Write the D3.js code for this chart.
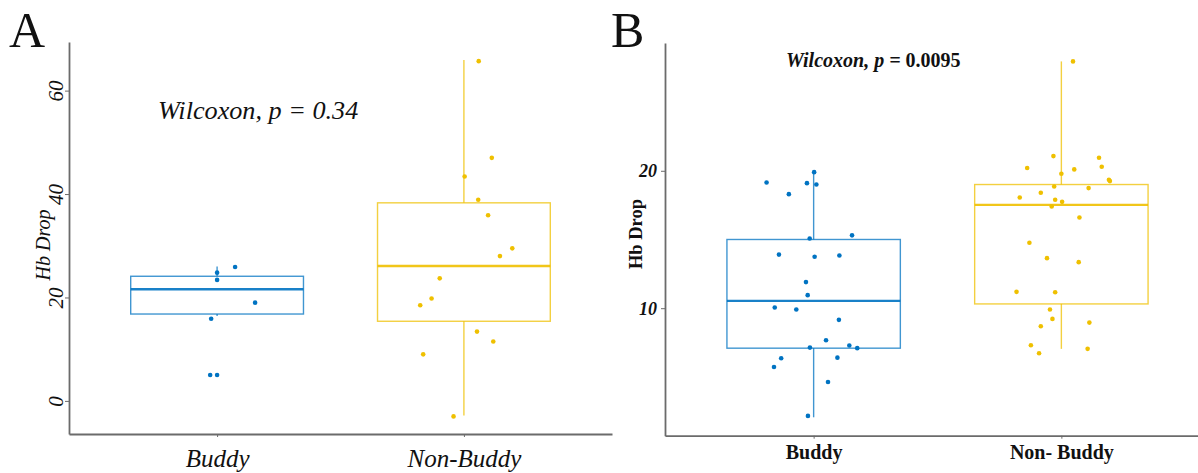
<!DOCTYPE html>
<html>
<head>
<meta charset="utf-8">
<script src="https://cdn.jsdelivr.net/npm/d3@7"></script>
<style>
  html, body { margin: 0; padding: 0; background: #fff; }
  svg { display: block; }
</style>
</head>
<body>
<svg id="chart" width="1198" height="473"></svg>
<script>
// ---------------- DATA ----------------
const categories = ["Buddy", "Non-Buddy"];
const categoryLabelsA = ["Buddy", "Non-Buddy"];
const categoryLabelsB = ["Buddy", "Non- Buddy"];
const colors = ["#0073C2", "#EFC000"];

// Panel A
const ticksA = [0, 20, 40, 60];
const buddyA = [24.8, 23.4, 25.9, 19.0, 15.9, 5.0, 5.0];
const buddyAJitter = [0, 0, 0.073, 0.154, -0.024, -0.028, 0];
const nonBuddyA = [65.7, 47.0, 43.4, 38.9, 35.9, 29.5, 28.0, 23.7, 19.8, 18.5, 13.4, 11.5, 9.0, -3.0];
const nonBuddyAJitter = [0.060, 0.113, 0.003, 0.058, 0.098, 0.196, 0.146, -0.098, -0.131, -0.177, 0.053, 0.119, -0.165, -0.042];
// box stats [Buddy, Non-Buddy]
const lowA = [16.4, -2.8];
const q1A = [16.8, 15.4];
const medA = [21.6, 26.1];
const q3A = [24.1, 38.3];
const highA = [26.0, 65.9];
const pLabelA = "Wilcoxon, p = 0.34";

// Panel B
const ticksB = [10, 20];
const buddyB = [19.15, 18.3, 19.1, 19.0, 19.9, 15.3, 15.07, 13.9, 13.74, 13.83, 11.9, 10.95, 10.05, 9.9, 9.15, 7.67, 7.13, 7.28, 7.09, 6.36, 5.72, 6.4, 4.63, 2.16];
const buddyBJitter = [-0.19, -0.10, -0.027, 0.011, 0.002, 0.155, -0.016, -0.14, 0.004, 0.104, -0.031, -0.024, -0.157, -0.07, 0.102, 0.05, -0.015, 0.144, 0.176, -0.131, -0.16, 0.096, 0.058, -0.023];
const nonBuddyB = [27.96, 21.07, 20.95, 20.2, 20.1, 20.29, 19.78, 19.34, 19.25, 18.86, 18.74, 18.06, 18.4, 17.89, 17.74, 17.4, 16.6, 14.76, 13.64, 13.35, 11.19, 11.16, 9.9, 9.22, 8.69, 8.95, 7.3, 6.72, 7.04];
const nonBuddyBJitter = [0.047, -0.032, 0.152, -0.138, 0.052, 0.163, 0, 0.192, 0.196, -0.029, 0.11, -0.168, -0.083, -0.025, 0.003, -0.039, 0.073, -0.129, -0.058, 0.07, -0.181, -0.025, -0.046, -0.036, -0.083, 0.113, -0.123, -0.09, 0.106];
const lowB = [2.06, 7.04];
const q1B = [7.09, 10.31];
const medB = [10.53, 17.52];
const q3B = [15.0, 19.0];
const highB = [20.0, 27.96];
const pLabelB1 = "Wilcoxon, p =";
const pLabelB2 = " 0.0095";

// ---------------- DRAWING ----------------
const svg = d3.select("#chart");
const SERIF = "'Liberation Serif', 'Times New Roman', serif";
const AXIS_COL = "#6b6b6b";

function drawPanel(cfg) {
  const g = svg.append("g");
  const x = d3.scalePoint().domain(categories).range(cfg.xRange).padding(0.6);
  const y = d3.scaleLinear().domain(cfg.yDomain).range(cfg.yRange);
  const step = x.step();
  const boxW = step * 0.7;

  // boxes
  categories.forEach((c, i) => {
    const cx = x(c);
    const col = colors[i];
    const bg = g.append("g");
    bg.append("line").attr("x1", cx).attr("x2", cx)
      .attr("y1", y(cfg.q3[i])).attr("y2", y(cfg.high[i]))
      .attr("stroke", col).attr("stroke-width", 1.4).attr("stroke-opacity", 0.75);
    bg.append("line").attr("x1", cx).attr("x2", cx)
      .attr("y1", y(cfg.q1[i])).attr("y2", y(cfg.low[i]))
      .attr("stroke", col).attr("stroke-width", 1.4).attr("stroke-opacity", 0.75);
    bg.append("rect").attr("x", cx - boxW / 2).attr("width", boxW)
      .attr("y", y(cfg.q3[i])).attr("height", y(cfg.q1[i]) - y(cfg.q3[i]))
      .attr("fill", "none").attr("stroke", col).attr("stroke-width", 1.4).attr("stroke-opacity", 0.75);
    bg.append("line").attr("x1", cx - boxW / 2).attr("x2", cx + boxW / 2)
      .attr("y1", y(cfg.med[i])).attr("y2", y(cfg.med[i]))
      .attr("stroke", col).attr("stroke-width", 2.4).attr("stroke-opacity", 0.9);
  });

  // points
  cfg.series.forEach((s, i) => {
    const pts = s.values.map((v, j) => ({ v, j: s.jitter[j] }));
    g.append("g").selectAll("circle").data(pts).join("circle")
      .attr("cx", d => x(categories[i]) + d.j * step)
      .attr("cy", d => y(d.v))
      .attr("r", 2.3)
      .attr("fill", colors[i]);
  });

  // y axis
  const yAxis = g.append("g").attr("transform", `translate(${cfg.xRange[0]},0)`)
    .call(d3.axisLeft(y).tickValues(cfg.ticks).tickSize(4).tickSizeOuter(0).tickPadding(3));
  yAxis.select(".domain").attr("stroke", AXIS_COL).attr("stroke-width", 1.8);
  yAxis.selectAll(".tick line").attr("stroke", AXIS_COL).attr("stroke-width", 1);
  yAxis.selectAll(".tick text").attr("fill", "#111").attr("font-family", SERIF);
  cfg.styleYTicks(yAxis.selectAll(".tick text"));

  // x axis
  const xAxis = g.append("g").attr("transform", `translate(0,${cfg.yRange[0]})`)
    .call(d3.axisBottom(x).tickSize(3).tickSizeOuter(0).tickFormat((d, i) => cfg.xLabels[i]));
  xAxis.select(".domain").attr("stroke", AXIS_COL).attr("stroke-width", 1.8);
  xAxis.selectAll(".tick line").attr("stroke", AXIS_COL).attr("stroke-width", 1);
  xAxis.selectAll(".tick text").attr("fill", "#111").attr("font-family", SERIF)
    .attr("dy", 0).attr("y", cfg.xLabelOffset)
    .attr("font-size", cfg.xLabelSize).attr("font-style", cfg.xLabelStyle).attr("font-weight", cfg.xLabelWeight);

  // y title
  g.append("text")
    .attr("transform", `translate(${cfg.yTitlePos[0]},${cfg.yTitlePos[1]}) rotate(-90)`)
    .attr("text-anchor", "middle")
    .attr("font-family", SERIF).attr("font-size", cfg.yTitleSize)
    .attr("font-style", cfg.yTitleStyle).attr("font-weight", cfg.yTitleWeight)
    .attr("fill", "#111")
    .text("Hb Drop");

  // panel letter
  g.append("text").attr("x", cfg.letterPos[0]).attr("y", cfg.letterPos[1])
    .attr("font-family", SERIF).attr("font-size", 50).attr("fill", "#111")
    .text(cfg.letter);
  return { g, x, y };
}

// Panel A
const pA = drawPanel({
  letter: "A", letterPos: [9, 47],
  xRange: [69, 612], yDomain: [-6.4, 69.4], yRange: [434, 42],
  ticks: ticksA, q1: q1A, q3: q3A, med: medA, low: lowA, high: highA,
  series: [{ values: buddyA, jitter: buddyAJitter }, { values: nonBuddyA, jitter: nonBuddyAJitter }],
  xLabels: categoryLabelsA, xLabelOffset: 33, xLabelSize: 25, xLabelStyle: "italic", xLabelWeight: "normal",
  yTitlePos: [50, 245], yTitleSize: 20, yTitleStyle: "italic", yTitleWeight: "normal",
  styleYTicks: sel => sel.attr("font-size", 21).attr("font-style", "italic")
    .attr("text-anchor", "middle").attr("x", 0).attr("dy", 0)
    .attr("transform", "translate(-6,0) rotate(-90)")
});
pA.g.append("text").attr("x", 158).attr("y", 119)
  .attr("font-family", SERIF).attr("font-size", 26.2).attr("font-style", "italic").attr("fill", "#111")
  .text(pLabelA);

// Panel B
const pB = drawPanel({
  letter: "B", letterPos: [611, 47],
  xRange: [665, 1210], yDomain: [0.72, 29.3], yRange: [435.7, 43],
  ticks: ticksB, q1: q1B, q3: q3B, med: medB, low: lowB, high: highB,
  series: [{ values: buddyB, jitter: buddyBJitter }, { values: nonBuddyB, jitter: nonBuddyBJitter }],
  xLabels: categoryLabelsB, xLabelOffset: 23, xLabelSize: 20, xLabelStyle: "normal", xLabelWeight: "bold",
  yTitlePos: [642, 234], yTitleSize: 18.5, yTitleStyle: "normal", yTitleWeight: "bold",
  styleYTicks: sel => sel.attr("font-size", 18).attr("font-style", "italic").attr("font-weight", "bold")
    .attr("dy", "0.34em").attr("x", -8)
});
const tB = pB.g.append("text").attr("x", 786).attr("y", 67)
  .attr("font-family", SERIF).attr("font-size", 20).attr("font-weight", "bold").attr("fill", "#111");
tB.append("tspan").attr("font-style", "italic").text(pLabelB1);
tB.append("tspan").text(pLabelB2);
</script>
</body>
</html>
